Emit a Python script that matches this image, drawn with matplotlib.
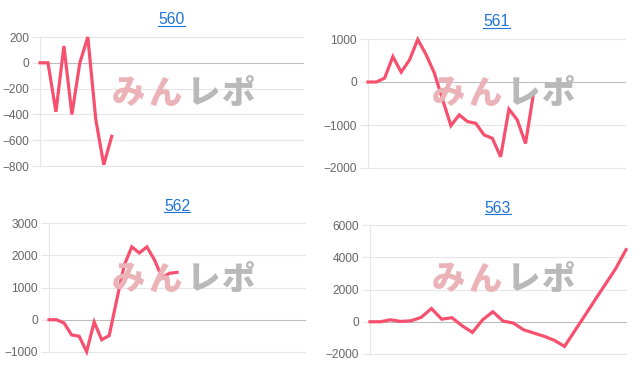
import numpy as np
import matplotlib
matplotlib.use("Agg")
import matplotlib.pyplot as plt
from matplotlib.lines import Line2D

# chart data
titles = ["560", "561", "562", "563"]
v560 = [0, 0, -380, 130, -400, 0, 200, -440, -790, -570]
v561 = [0, 0, 90, 590, 230, 510, 990, 640, 210, -410, -1015, -765, -920, -960,
        -1230, -1310, -1740, -630, -880, -1430, -220]
v562 = [0, 0, -100, -470, -510, -990, -70, -620, -490, 620, 1700, 2260, 2070,
        2260, 1860, 1310, 1440, 1470]
v563 = [0, 0, 120, 20, 60, 270, 820, 160, 250, -250, -660, 120, 620, 40, -80,
        -500, -700, -900, -1150, -1530, -560, 400, 1380, 2340, 3300, 4470]
series = [v560, v561, v562, v563]
n_labels = [34, 32, 35, 26]
yticks = [[-800, -600, -400, -200, 0, 200],
          [-2000, -1000, 0, 1000],
          [-1000, 0, 1000, 2000, 3000],
          [-2000, 0, 2000, 4000, 6000]]

W, H = 640, 372
# plot areas in pixels: left, right, top, bottom
boxes = [(40, 303, 37, 166), (368, 625, 39, 168),
         (49, 305, 223, 352), (370, 626, 225, 354)]
origins = [(0, 0), (320, 0), (0, 186), (320, 186)]

line_color = "#f7506e"
grid_color = "#e6e6e6"
zero_color = "#bdbdbd"
title_color = "#1e73d8"

plt.rcParams["font.family"] = ["Liberation Sans", "DejaVu Sans"]
fig = plt.figure(figsize=(W / 100, H / 100), dpi=100)
fig.patch.set_facecolor("white")

for i in range(4):
    l, r, t, b = boxes[i]
    ax = fig.add_axes([l / W, 1 - b / H, (r - l) / W, (b - t) / H])
    vals = series[i]
    ax.plot(np.arange(len(vals)), vals, color=line_color, lw=2.3,
            solid_joinstyle="miter", clip_on=False, zorder=5)
    ax.set_xlim(0, n_labels[i] - 1)
    ax.set_ylim(yticks[i][0], yticks[i][-1])
    ax.set_yticks(yticks[i])
    ax.set_xticks([])
    for s in ["top", "right", "bottom"]:
        ax.spines[s].set_visible(False)
    ax.spines["left"].set_color(grid_color)
    ax.spines["left"].set_linewidth(0.8)
    for y in yticks[i]:
        ax.axhline(y, color=zero_color if y == 0 else grid_color, lw=0.8,
                   clip_on=False, zorder=1)
    ax.tick_params(axis="y", length=5.8, width=0.8, color=grid_color, pad=2.2,
                   labelsize=8.6, labelcolor="#666666")
    ax.set_facecolor("none")

    # watermark logo
    ox, oy = origins[i]
    for ch, cx, col in zip(["み", "ん", "レ", "ポ"], [128, 165, 204, 238],
                           ["#ebb3b7", "#ebb3b7", "#b9b9b9", "#b9b9b9"]):
        fig.text((ox + cx) / W, 1 - (oy + 93) / H, ch, ha="center", va="center",
                 fontsize=24, fontweight="heavy", color=col,
                 family=["Noto Sans CJK JP"], zorder=0)

# titles with underline
renderer = fig.canvas.get_renderer()
for i in range(4):
    l, r, t, b = boxes[i]
    cx = (l + r) / 2
    base = t - 12.5
    txt = fig.text(cx / W, 1 - base / H, titles[i], ha="center", va="baseline",
                   fontsize=11.3, color=title_color)
    bb = txt.get_window_extent(renderer)
    uy = 1 - (base + 1.8) / H
    fig.add_artist(Line2D([bb.x0 / W, bb.x1 / W], [uy, uy], color=title_color,
                          lw=0.8))

plt.savefig("out.png", dpi=100)
